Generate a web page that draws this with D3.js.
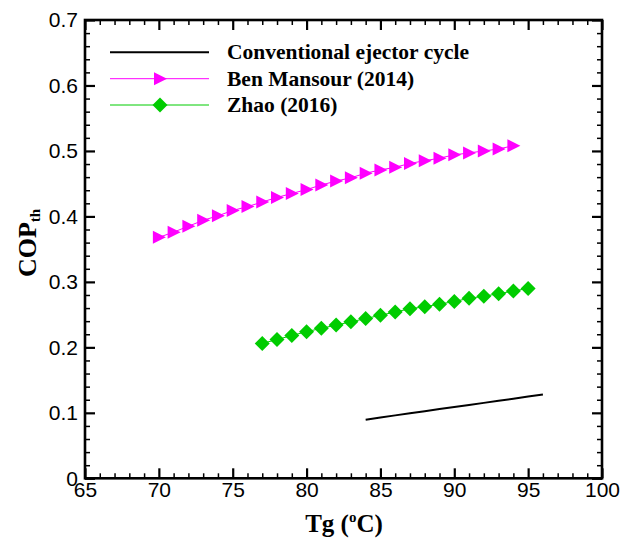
<!DOCTYPE html>
<html><head><meta charset="utf-8">
<script src="https://cdn.jsdelivr.net/npm/d3@7"></script>
<style>body{margin:0;background:#fff}</style>
</head><body>
<script>
// ---- data ----
const conventionalTg = [84,85,86,87,88,89,90,91,92,93,94,95,96];
const conventionalCOP = [0.0895,0.0928,0.0961,0.0994,0.1025,0.1057,0.1088,0.1120,0.1152,0.1184,0.1216,0.1248,0.1280];
const benMansourTg = [70,71,72,73,74,75,76,77,78,79,80,81,82,83,84,85,86,87,88,89,90,91,92,93,94];
const benMansourCOP = [0.368,0.376,0.385,0.394,0.401,0.409,0.415,0.422,0.429,0.435,0.441,0.448,0.454,0.459,0.466,0.471,0.475,0.481,0.485,0.489,0.494,0.497,0.500,0.503,0.508];
const zhaoTg = [77,78,79,80,81,82,83,84,85,86,87,88,89,90,91,92,93,94,95];
const zhaoCOP = [0.206,0.212,0.218,0.224,0.229,0.234,0.239,0.244,0.249,0.254,0.259,0.262,0.266,0.270,0.275,0.278,0.282,0.286,0.290];
const xTicks = [65,70,75,80,85,90,95,100];
const yTicks = [0,0.1,0.2,0.3,0.4,0.5,0.6,0.7];
const legendLabels = ["Conventional ejector cycle","Ben Mansour (2014)","Zhao (2016)"];

const W = 630, H = 541;
const L = 85, R = 602, T = 20, B = 478.3;
const svg = d3.select("body").append("svg").attr("width", W).attr("height", H);

const x = d3.scaleLinear().domain([65,100]).range([L,R]);
const y = d3.scaleLinear().domain([0,0.7]).range([B,T]);

const xMinor = d3.range(65,100.01,1).filter(v => v % 5 !== 0);
const yMinor = d3.range(0,71,2).map(v => v/100).filter(v => Math.round(v*100) % 10 !== 0);

const tickFont = "'Liberation Sans', Arial, sans-serif";
function styleAxis(g, major) {
  g.select(".domain").remove();
  g.selectAll(".tick line").attr("stroke","#000").attr("stroke-width", major ? 2.2 : 1.5);
  g.selectAll("text").attr("font-family", tickFont).attr("font-size", 21).attr("fill","#000");
}
// bottom
svg.append("g").attr("transform",`translate(0,${B})`)
  .call(d3.axisBottom(x).tickValues(xTicks).tickSizeInner(-10).tickSizeOuter(0).tickPadding(4).tickFormat(d3.format("d")))
  .call(g => styleAxis(g,true));
svg.append("g").attr("transform",`translate(0,${B})`)
  .call(d3.axisBottom(x).tickValues(xMinor).tickSizeInner(-5).tickSizeOuter(0).tickFormat(""))
  .call(g => styleAxis(g,false));
// top
svg.append("g").attr("transform",`translate(0,${T})`)
  .call(d3.axisTop(x).tickValues(xTicks).tickSizeInner(-10).tickSizeOuter(0).tickFormat(""))
  .call(g => styleAxis(g,true));
svg.append("g").attr("transform",`translate(0,${T})`)
  .call(d3.axisTop(x).tickValues(xMinor).tickSizeInner(-5).tickSizeOuter(0).tickFormat(""))
  .call(g => styleAxis(g,false));
// left
svg.append("g").attr("transform",`translate(${L},0)`)
  .call(d3.axisLeft(y).tickValues(yTicks).tickSizeInner(-10).tickSizeOuter(0).tickPadding(7).tickFormat(d => d === 0 ? "0" : d3.format(".1f")(d)))
  .call(g => styleAxis(g,true));
svg.append("g").attr("transform",`translate(${L},0)`)
  .call(d3.axisLeft(y).tickValues(yMinor).tickSizeInner(-5).tickSizeOuter(0).tickFormat(""))
  .call(g => styleAxis(g,false));
// right
svg.append("g").attr("transform",`translate(${R},0)`)
  .call(d3.axisRight(y).tickValues(yTicks).tickSizeInner(-10).tickSizeOuter(0).tickFormat(""))
  .call(g => styleAxis(g,true));
svg.append("g").attr("transform",`translate(${R},0)`)
  .call(d3.axisRight(y).tickValues(yMinor).tickSizeInner(-5).tickSizeOuter(0).tickFormat(""))
  .call(g => styleAxis(g,false));

// frame
svg.append("rect").attr("x",L).attr("y",T).attr("width",R-L).attr("height",B-T)
  .attr("fill","none").attr("stroke","#000").attr("stroke-width",2.6);

const line = d3.line().x(d => x(d[0])).y(d => y(d[1]));

// conventional
svg.append("path").datum(d3.zip(conventionalTg, conventionalCOP))
  .attr("d", line).attr("fill","none").attr("stroke","#000").attr("stroke-width",2);

const magenta = "#ff00ff", green = "#00cc00";
const triPath = "M-6,-6.5L7,0L-6,6.5Z";
const diaPath = "M0,-7.5L7.5,0L0,7.5L-7.5,0Z";

// Ben Mansour
const bmData = d3.zip(benMansourTg, benMansourCOP);
svg.append("path").datum(bmData).attr("d", line).attr("fill","none").attr("stroke",magenta).attr("stroke-width",1);
svg.append("g").selectAll("path").data(bmData).join("path")
  .attr("d", triPath).attr("fill", magenta)
  .attr("transform", d => `translate(${x(d[0])},${y(d[1])})`);

// Zhao
const zData = d3.zip(zhaoTg, zhaoCOP);
svg.append("path").datum(zData).attr("d", line).attr("fill","none").attr("stroke",green).attr("stroke-width",1);
svg.append("g").selectAll("path").data(zData).join("path")
  .attr("d", diaPath).attr("fill", green)
  .attr("transform", d => `translate(${x(d[0])},${y(d[1])})`);

// legend
const serif = "'Liberation Serif', 'Times New Roman', serif";
const legY = [52.3, 78.7, 105];
const legStroke = ["#000", magenta, green];
const legWidth = [2, 1, 1];
const lg = svg.append("g");
legendLabels.forEach((lab, i) => {
  lg.append("line").attr("x1",110).attr("x2",209).attr("y1",legY[i]).attr("y2",legY[i])
    .attr("stroke",legStroke[i]).attr("stroke-width",legWidth[i]);
  if (i === 1) lg.append("path").attr("d",triPath).attr("fill",magenta).attr("transform",`translate(160,${legY[i]})`);
  if (i === 2) lg.append("path").attr("d",diaPath).attr("fill",green).attr("transform",`translate(160,${legY[i]})`);
  lg.append("text").attr("x",227).attr("y",legY[i]).attr("dy","0.33em")
    .attr("font-family",serif).attr("font-weight","bold").attr("font-size",21.5).text(lab);
});

// axis titles
const xt = svg.append("text").attr("x",344).attr("y",532).attr("text-anchor","middle")
  .attr("font-family",serif).attr("font-weight","bold").attr("font-size",25);
xt.append("tspan").text("Tg (");
xt.append("tspan").attr("font-size",15).attr("dy",-10).text("o");
xt.append("tspan").attr("dy",10).text("C)");

const yt = svg.append("text").attr("transform","translate(36,243) rotate(-90)").attr("text-anchor","middle")
  .attr("font-family",serif).attr("font-weight","bold").attr("font-size",26);
yt.append("tspan").text("COP");
yt.append("tspan").attr("font-size",15).attr("dy",4).text("th");
</script>
</body></html>
